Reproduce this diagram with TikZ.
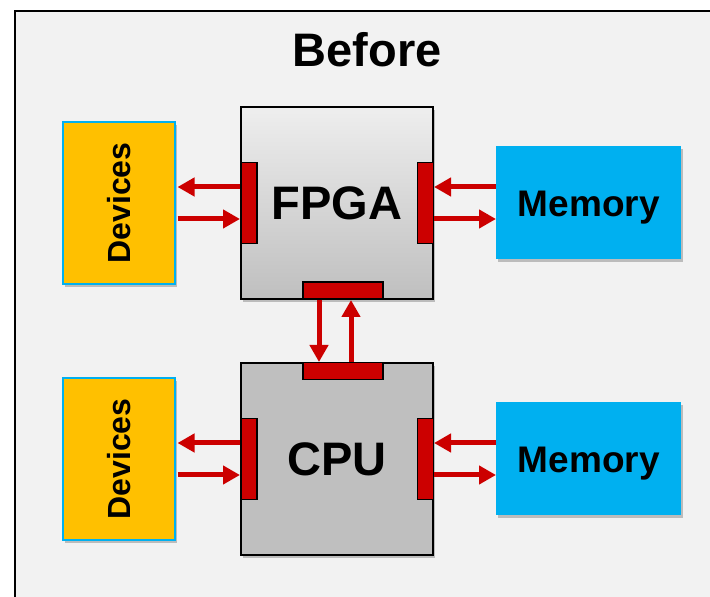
\documentclass[tikz,border=0pt]{standalone}
\usepackage{fontspec}
\setmainfont{Liberation Sans}
\usepackage{xcolor}
\usepackage{tikz}
\usetikzlibrary{positioning,arrows.meta,shadows}
\definecolor{fondo}{HTML}{F2F2F2}
\definecolor{rojo}{HTML}{CC0000}
\definecolor{naranja}{HTML}{FFC000}
\definecolor{celeste}{HTML}{00B0F0}
\definecolor{gris}{HTML}{BFBFBF}
\definecolor{grisclaro}{HTML}{EEEEEE}

\begin{document}
\begin{tikzpicture}[x=1pt, y=1pt,
  sombra/.style={drop shadow={shadow xshift=2pt, shadow yshift=-3pt, fill=black, opacity=0.22}},
  chip/.style={draw, line width=2pt, minimum width=192pt, minimum height=192pt, inner sep=0pt, font=\fontsize{47}{47}\selectfont\bfseries, sombra},
  puerto/.style={draw, fill=rojo, line width=1.5pt, inner sep=0pt},
  dispositivo/.style={draw=celeste, fill=naranja, line width=1.5pt, minimum width=112pt, minimum height=162pt, inner sep=0pt, sombra},
  memoria/.style={fill=celeste, minimum width=185pt, minimum height=113pt, inner sep=0pt, font=\fontsize{37}{37}\selectfont\bfseries, text height=26.5pt, text depth=0pt, sombra},
  flecha/.style={-{Triangle[length=17pt, width=18pt]}, line width=5pt, rojo}]
\useasboundingbox (0,0) rectangle (710,597);
\fill[fondo] (15,-10) rectangle (720,586);
\draw[line width=2pt] (15,-10) -- (15,586) -- (720,586);
\node[font=\fontsize{47}{47}\selectfont\bfseries] (titulo) at (367,547) {Before};
% chips
\node[chip, top color=grisclaro, bottom color=gris] (fpga) at (337,394) {FPGA};
\node[chip, fill=gris, below=62pt of fpga] (cpu) {CPU};
\node[dispositivo, left=64.5pt of fpga] (devA) {};
\node[dispositivo, left=64.5pt of cpu] (devB) {};
\node[rotate=90, font=\fontsize{32}{32}\selectfont\bfseries] (devA-txt) at (devA) {Devices};
\node[rotate=90, font=\fontsize{32}{32}\selectfont\bfseries] (devB-txt) at (devB) {Devices};
\node[memoria, right=62pt of fpga] (memA) {Memory};
\node[memoria, right=62pt of cpu] (memB) {Memory};
% puertos
\foreach \c in {fpga, cpu} {
  \node[puerto, minimum width=16pt, minimum height=81pt, anchor=west] (\c-l) at (\c.west) {};
  \node[puerto, minimum width=16pt, minimum height=81pt, anchor=east] (\c-r) at (\c.east) {};
}
\node[puerto, minimum width=80pt, minimum height=17pt, anchor=south] (fpga-b) at ([xshift=6pt]fpga.south) {};
\node[puerto, minimum width=80pt, minimum height=17pt, anchor=north] (cpu-t) at ([xshift=6pt]cpu.north) {};
% flechas
\foreach \c/\d/\m in {fpga/devA/memA, cpu/devB/memB} {
  \draw[flecha, shorten >=2pt] ([yshift=16pt]\c-l.west) -- ([yshift=16pt]\d.east);
  \draw[flecha, shorten <=2pt] ([yshift=-16pt]\d.east) -- ([yshift=-16pt]\c-l.west);
  \draw[flecha] ([yshift=16pt]\m.west) -- ([yshift=16pt]\c-r.east);
  \draw[flecha] ([yshift=-16pt]\c-r.east) -- ([yshift=-16pt]\m.west);
}
\draw[flecha] ([xshift=-24pt]fpga-b.south) -- ([xshift=-24pt]cpu-t.north);
\draw[flecha] ([xshift=8pt]cpu-t.north) -- ([xshift=8pt]fpga-b.south);
\end{tikzpicture}
\end{document}
